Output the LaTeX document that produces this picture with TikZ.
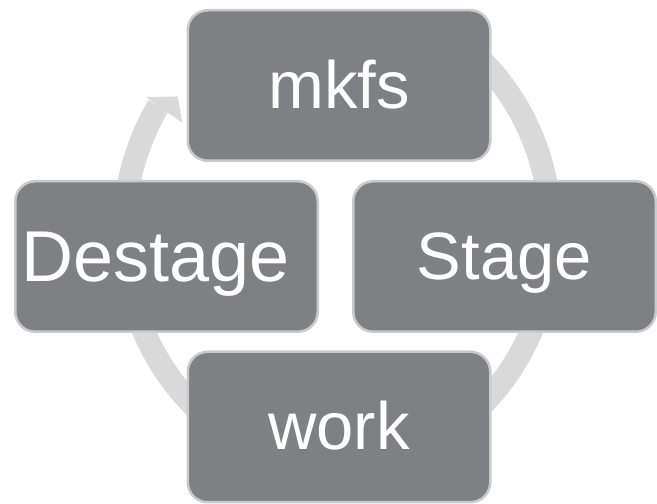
\documentclass[tikz,border=0pt]{standalone}
\usepackage{fontspec}
\setmainfont{Liberation Sans}
\definecolor{boxgray}{RGB}{127,128,132}
\definecolor{edgegray}{RGB}{200,202,205}
\definecolor{bandgray}{RGB}{217,217,217}
\tikzset{
  cyclebox/.style={rectangle, rounded corners=20pt, fill=boxgray, draw=edgegray,
    line width=2.5pt, text=white, inner sep=0pt,
    minimum width=302.5pt, minimum height=150.5pt,
    font=\fontsize{67}{80}\selectfont, text height=50pt, text depth=4pt},
  boxlabel/.style={text=white, inner sep=0pt, font=\fontsize{72}{86}\selectfont,
    text height=54pt, text depth=4pt},
  bandline/.style={draw=bandgray, line width=23pt},
  bandhead/.style={fill=bandgray}
}
\begin{document}
\begin{tikzpicture}[x=1pt,y=1pt]
  \path[use as bounding box] (0,0) rectangle (657,504);
  % centre of the cycle arrow
  \coordinate (cyc) at (337.5,271);
  % circular band, running clockwise from behind the top box
  \draw[bandline] (cyc) ++(60:213.5 and 233.5)
    arc[start angle=60, end angle=-213, x radius=213.5, y radius=233.5];
  % arrowhead pointing at the top box
  \path (cyc) ++(147:228.4 and 249.8) coordinate (hw1)
    (cyc) ++(142:202.8 and 221.8) coordinate (htip)
    (cyc) ++(147:185.1 and 202.4) coordinate (hw2);
  \fill[bandhead] (hw1) -- (htip) -- (hw2) -- cycle;
  % the four steps
  \node[cyclebox] (mkfs)    at (339,418.5)   {mkfs};
  \node[cyclebox] (stage)   at (504.5,247.5) {Stage};
  \node[cyclebox] (work)    at (339,77)      {work};
  \node[cyclebox] (destage) at (166.5,247.5) {};
  \node[boxlabel] (destagetext) at ([xshift=-11pt]destage.center) {Destage};
\end{tikzpicture}
\end{document}
